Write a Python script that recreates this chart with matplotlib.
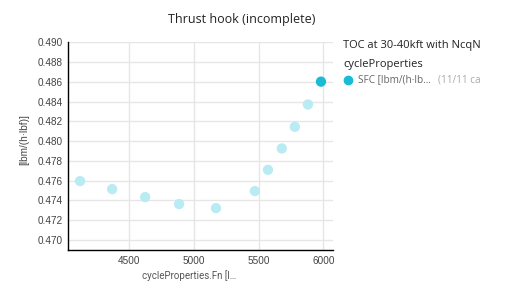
import matplotlib
matplotlib.use("Agg")
import matplotlib.pyplot as plt
from matplotlib.lines import Line2D

fn = [4119, 4367, 4622, 4885, 5170, 5471, 5572, 5679, 5780, 5881, 5982]
sfc = [0.47596, 0.47515, 0.47434, 0.47364, 0.47323, 0.47495, 0.4771, 0.47926, 0.48145, 0.48371, 0.48602]
xticks = [4500, 5000, 5500, 6000]
yticks = [0.470, 0.472, 0.474, 0.476, 0.478, 0.480, 0.482, 0.484, 0.486, 0.488, 0.490]

title = "Thrust hook (incomplete)"
legend_title1 = "TOC at 30-40kft with NcqN"
legend_title2 = "cycleProperties"
series_name = "SFC [lbm/(h·lb\u2026"
series_count = "(11/11 ca"
xlabel = "cycleProperties.Fn [l\u2026"
ylabel = "[lbm/(h·lbf)]"

fig = plt.figure(figsize=(5.27, 2.94), dpi=100)
ax = fig.add_axes([68.3/527, 1-250/294, (333-68.3)/527, (250-41.5)/294])

dark = "#19bcd4"
light = "#b9ebf2"
ax.scatter(fn[:-1], sfc[:-1], s=55, color=light, edgecolors="none", zorder=3)
ax.scatter(fn[-1:], sfc[-1:], s=55, color=dark, edgecolors="none", zorder=4)

ax.set_xlim(4028, 6075)
ax.set_ylim(0.46899, 0.49008)
ax.set_xticks(xticks)
ax.set_xticklabels([str(v) for v in xticks])
ax.set_yticks(yticks)
ax.set_yticklabels([f"{v:.3f}" for v in yticks])
ax.grid(True, color="#e6e6e6", linewidth=1)
ax.set_axisbelow(True)
for s in ["top", "right"]:
    ax.spines[s].set_visible(False)
for s in ["left", "bottom"]:
    ax.spines[s].set_color("black")
    ax.spines[s].set_linewidth(1)
ax.tick_params(length=0, labelsize=7.2, colors="#444444", pad=4)
for lab in ax.get_xticklabels() + ax.get_yticklabels():
    lab.set_family("Liberation Sans")

fig.text(189/527, 1-276/294, xlabel, ha="center", va="center", fontsize=7, color="#555555", family="Roboto")
fig.text(24/527, 1-140/294, ylabel, ha="center", va="center", rotation=90, fontsize=7.2,
         color="#444444", family="Liberation Sans")

fig.text(242/527, 1-20/294, title, ha="center", va="center", fontsize=9, color="#222222", family="Open Sans")
fig.text(343/527, 1-45/294, legend_title1, ha="left", va="center", fontsize=8, color="#222222", family="Open Sans")
fig.text(343/527, 1-64/294, legend_title2, ha="left", va="center", fontsize=8, color="#222222", family="Open Sans")
fig.add_artist(Line2D([348/527], [1-79.5/294], marker="o", markersize=6, color=dark, linestyle="none",
                      transform=fig.transFigure))
fig.text(358/527, 1-80/294, series_name, ha="left", va="center", fontsize=7.2, color="#666666", family="Open Sans")
fig.text(438/527, 1-80/294, series_count, ha="left", va="center", fontsize=7.2, color="#aaaaaa", family="Open Sans")

fig.savefig("out.png", dpi=100)
